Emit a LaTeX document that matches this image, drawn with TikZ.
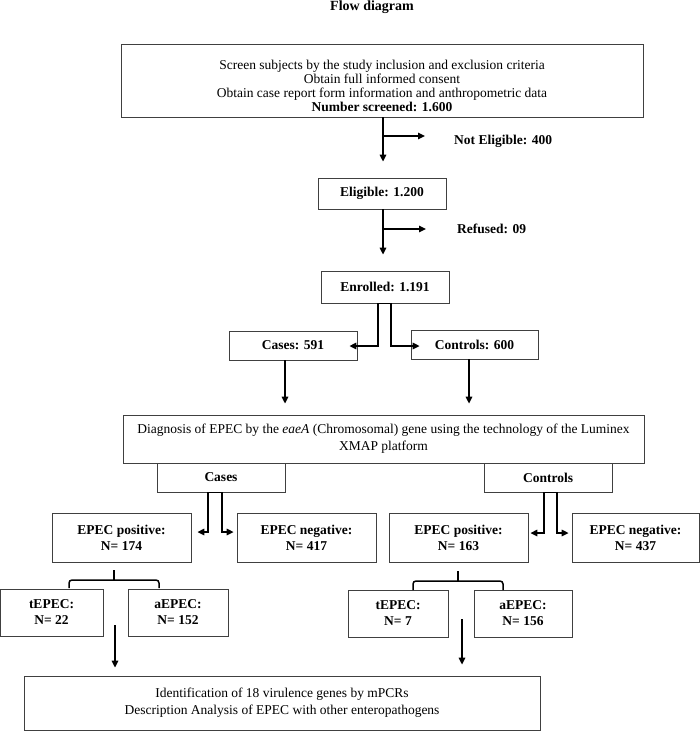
\documentclass[tikz,border=0pt]{standalone}
\usepackage{fontspec}
\setmainfont{Liberation Serif}
\usetikzlibrary{arrows.meta}
\begin{document}
\begin{tikzpicture}[x=1pt,y=-1pt,
  box/.style={draw=black!75, line width=0.8pt, inner sep=0pt, align=center, fill=white},
  txt/.style={font=\fontsize{13.5}{14.2}\selectfont, align=center, inner sep=0pt},
  txtb/.style={font=\fontsize{13.5}{16}\selectfont\bfseries},
  lbl/.style={font=\fontsize{13.5}{14}\selectfont\bfseries, inner sep=0pt},
  arr/.style={line width=1.5pt, -{Triangle[length=7pt,width=6.5pt]}},
  darr/.style={line width=1.5pt, {Triangle[length=7pt,width=6.5pt]}-{Triangle[length=7pt,width=6.5pt]}},
  brk/.style={line width=1.5pt, rounded corners=3pt}
]
\fill[white] (0,0) rectangle (700,731);
\useasboundingbox (0,0) rectangle (700,731);

\node[lbl, font=\fontsize{14}{14}\selectfont\bfseries] (title) at (372,7) {Flow diagram};

\node[box, minimum width=522pt, minimum height=73pt] (top) at (382,80.5) {};
\node[txt] (toptext) at (382,86)
  {Screen subjects by the study inclusion and exclusion criteria\\
   Obtain full informed consent\\
   Obtain case report form information and anthropometric data\\
   \textbf{Number screened: 1.600}};

\node[box, txtb, minimum width=128pt, minimum height=31pt] (elig) at (382,193.5) {Eligible: 1.200};
\node[box, txtb, minimum width=128pt, minimum height=32pt] (enr) at (385,287) {Enrolled: 1.191};
\node[box, txtb, minimum width=128pt, minimum height=29pt] (cases) at (293,345.5) {Cases: 591};
\node[box, txtb, minimum width=127pt, minimum height=29pt] (ctrl) at (474.5,344.5) {Controls: 600};

\node[lbl, anchor=west] (ne) at (454,141) {Not Eligible: 400};
\node[lbl, anchor=west] (ref) at (457,229) {Refused: 09};

\node[box, font=\fontsize{13.5}{17}\selectfont, minimum width=521pt, minimum height=48pt] (diag) at (383.5,439)
  {Diagnosis of EPEC by the \textit{eaeA} (Chromosomal) gene using the technology of the Luminex\\XMAP platform};
\node[box, txtb, minimum width=128pt, minimum height=29pt] (csub) at (221,477.5) {Cases};
\node[box, txtb, minimum width=128pt, minimum height=29pt] (ksub) at (548,477.5) {Controls};

\node[box, txtb, minimum width=139pt, minimum height=49pt] (posA) at (121.5,537.5) {EPEC positive:\\N= 174};
\node[box, txtb, minimum width=139pt, minimum height=49pt] (negA) at (306.5,537.5) {EPEC negative:\\N= 417};
\node[box, txtb, minimum width=139pt, minimum height=49pt] (posB) at (458.5,537.5) {EPEC positive:\\N= 163};
\node[box, txtb, minimum width=127pt, minimum height=49pt] (negB) at (635.5,537.5) {EPEC negative:\\N= 437};

\node[box, txtb, minimum width=103pt, minimum height=47pt] (tA) at (51.5,612.5) {tEPEC:\\N= 22};
\node[box, txtb, minimum width=100pt, minimum height=47pt] (aA) at (178,612.5) {aEPEC:\\N= 152};
\node[box, txtb, minimum width=100pt, minimum height=47pt] (tB) at (398,613.5) {tEPEC:\\N= 7};
\node[box, txtb, minimum width=98pt, minimum height=47pt] (aB) at (523,613.5) {aEPEC:\\N= 156};

\node[box, font=\fontsize{13.5}{17}\selectfont, minimum width=516pt, minimum height=54pt] (fin) at (282,703)
  {Identification of 18 virulence genes by mPCRs\\
   Description Analysis of EPEC with other enteropathogens};

% main flow
\draw[arr, shorten >=16pt] (top.south -| 383,0) -- (elig.north -| 383,0);
\coordinate (b1) at (383,136);
\draw[arr, shorten >=29pt] (b1) -- (ne.west |- b1);
\draw[arr, shorten >=16pt] (elig.south -| 383,0) -- (enr.north -| 383,0);
\coordinate (b2) at (383,229);
\draw[arr, shorten >=31pt] (b2) -- (ref.west |- b2);

% enrolled split
\coordinate (e1) at (378,346);
\coordinate (e2) at (391,346);
\draw[darr] ([xshift=-8pt]cases.east |- e1) -- (e1) -- (e1 |- enr.south) -- (e2 |- enr.south) -- (e2) -- ([xshift=9pt]ctrl.west |- e2);

\draw[arr, shorten >=11pt] (cases.south -| 285,0) -- (diag.north -| 285,0);
\draw[arr, shorten >=11pt] (ctrl.south -| 469,0) -- (diag.north -| 469,0);

% cases split
\coordinate (c1) at (208,532);
\coordinate (c2) at (222,532);
\draw[darr] ([xshift=6pt]posA.east |- c1) -- (c1) -- (c1 |- csub.south) -- (c2 |- csub.south) -- (c2) -- ([xshift=-3pt]negA.west |- c2);

% controls split
\coordinate (k1) at (544,533);
\coordinate (k2) at (557,533);
\draw[darr] ([xshift=2pt]posB.east |- k1) -- (k1) -- (k1 |- ksub.south) -- (k2 |- ksub.south) -- (k2) -- ([xshift=-3pt]negB.west |- k2);

% brackets
\coordinate (sA) at (114,570);
\draw[brk] (sA) -- (114,580);
\draw[brk] (69,588) -- (69,580) -- (159,580) -- (159,588);
\coordinate (sB) at (458,571);
\draw[brk] (sB) -- (458,581);
\draw[brk] (413,590) -- (413,581) -- (503,581) -- (503,590);

% final arrows
\coordinate (fa) at (115,625);
\draw[arr, shorten >=8pt] (fa) -- (fin.north -| fa);
\coordinate (fb) at (462,619);
\draw[arr, shorten >=11pt] (fb) -- (fin.north -| fb);
\end{tikzpicture}
\end{document}
